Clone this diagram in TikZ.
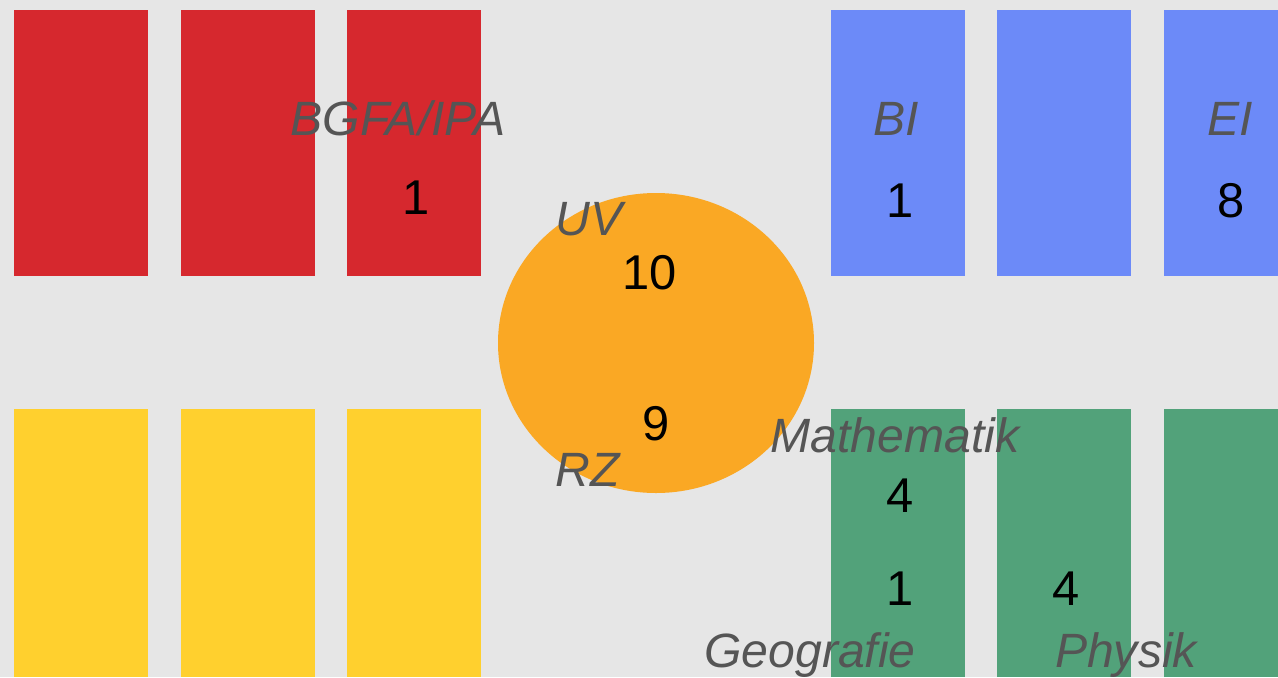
\documentclass[tikz,border=0pt]{standalone}
\usepackage{fontspec}
\setmainfont{Liberation Sans}
\usetikzlibrary{positioning}
\definecolor{floorgray}{RGB}{230,230,230}
\definecolor{hallred}{RGB}{214,40,46}
\definecolor{hallyellow}{RGB}{255,208,46}
\definecolor{hallblue}{RGB}{108,138,248}
\definecolor{hallgreen}{RGB}{82,162,122}
\definecolor{hallorange}{RGB}{250,168,36}
\definecolor{labelgray}{RGB}{85,85,85}
\tikzset{
  lbl/.style={anchor=base,inner sep=0pt,text=labelgray,
              font=\fontsize{27.4}{30}\selectfont\itshape},
  num/.style={anchor=base,inner sep=0pt,
              font=\fontsize{27.8}{30}\selectfont},
}

\begin{document}
\begin{tikzpicture}[x=0.02cm,y=-0.02cm]
  \fill[floorgray] (0,0) rectangle (1278,677);
  % buildings
  \foreach \xa in {14,181,347} {
    \fill[hallred] (\xa,10) rectangle ++(134,266);
    \fill[hallyellow] (\xa,409) rectangle ++(134,268);
  }
  \foreach \xa in {831,997} {
    \fill[hallblue] (\xa,10) rectangle ++(134,266);
    \fill[hallgreen] (\xa,409) rectangle ++(134,268);
  }
  \fill[hallblue] (1164,10) rectangle (1278,276);
  \fill[hallgreen] (1164,409) rectangle (1278,677);
  \fill[hallorange] (656,343) ellipse [x radius=158, y radius=150];

  % labels
  \node[lbl] (bgfa) at (398,135) {BGFA/IPA};
  \node[num] (bgfan) at (416,214) {1};
  \node[lbl] (uv) at (589,235) {UV};
  \node[num] (uvn) at (650,289) {10};
  \node[num] (rzn) at (656,440) {9};
  \node[lbl] (rz) at (588,486) {RZ};
  \node[lbl] (bi) at (896,135) {BI};
  \node[num] (bin) at (900,217) {1};
  \node[lbl] (ei) at (1230,135) {EI};
  \node[num] (ein) at (1231,217) {8};
  \node[lbl] (mathe) at (895,452) {Mathematik};
  \node[num] (mathen) at (900,512) {4};
  \node[num] (geon) at (900,605) {1};
  \node[num] (phyn) at (1066,605) {4};
  \node[lbl] (geo) at (810,667) {Geografie};
  \node[lbl] (phy) at (1126,667) {Physik};
\end{tikzpicture}
\end{document}
